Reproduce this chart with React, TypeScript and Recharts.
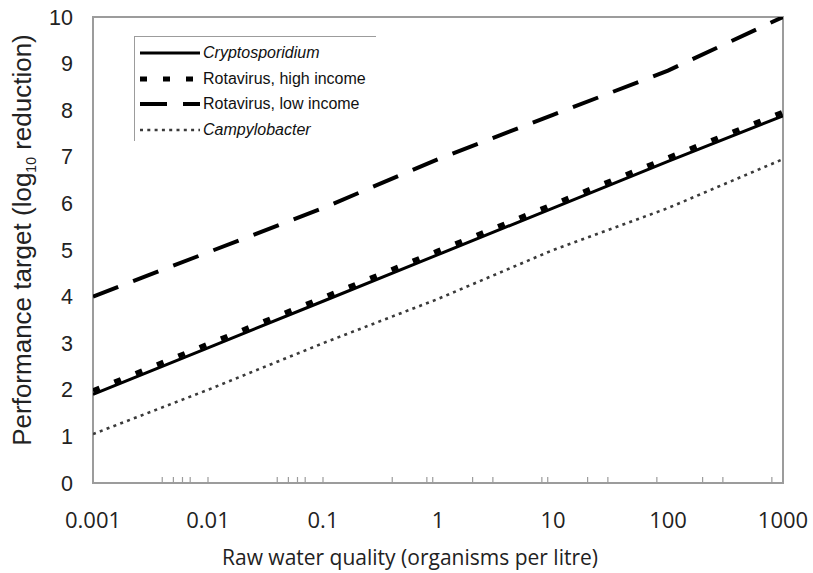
import { LineChart, Line, XAxis, YAxis, ReferenceArea, Label } from "recharts";

// raw water quality, organisms per litre
const xValues = [0.001, 0.01, 0.1, 1, 10, 100, 1000];
const cryptoValues = [1.9, 2.9, 3.9, 4.9, 5.9, 6.9, 7.88];
const rotaHighValues = [1.98, 2.98, 3.98, 4.98, 5.98, 6.98, 7.96];
const rotaLowValues = [4.0, 4.95, 5.9, 6.95, 7.9, 8.85, 10.0];
const campyValues = [1.05, 2.0, 3.0, 3.95, 5.0, 5.9, 6.95];

const xTicks = [0.001, 0.01, 0.1, 1, 10, 100, 1000];
const minorTicks = [
  0.004, 0.005, 0.006, 0.007, 0.01, 0.04, 0.05, 0.06, 0.07, 0.1, 0.4, 0.8, 0.9,
  2, 3, 8, 9, 20, 30, 80, 200, 300, 800,
];
const yTicks = [0, 1, 2, 3, 4, 5, 6, 7, 8, 9, 10];

const series = [
  { key: "campy", name: "Campylobacter", color: "#3a3a3a", width: 2.6, dash: "3 4.3", italic: true },
  { key: "crypto", name: "Cryptosporidium", color: "#000", width: 3, dash: undefined, italic: true },
  { key: "rotaHigh", name: "Rotavirus, high income", color: "#000", width: 5, dash: "7 16", italic: false },
  { key: "rotaLow", name: "Rotavirus, low income", color: "#000", width: 4, dash: "27 16", italic: false },
];
const legendOrder = ["crypto", "rotaHigh", "rotaLow", "campy"];

const data = xValues.map((x, i) => ({
  x,
  crypto: cryptoValues[i],
  rotaHigh: rotaHighValues[i],
  rotaLow: rotaLowValues[i],
  campy: campyValues[i],
}));

const axisGray = "#9c9c9c";

const ChartLegend = () => (
  <div
    style={{
      position: "absolute",
      left: 134,
      top: 36,
      width: 241,
      height: 104,
      borderTop: `1px solid ${axisGray}`,
      borderLeft: `1px solid ${axisGray}`,
      fontFamily: "'Liberation Sans', Arial, sans-serif",
      fontSize: 16,
      color: "#111",
    }}
  >
    {legendOrder.map((k, i) => {
      const s = series.find((d) => d.key === k)!;
      return (
        <div
          key={k}
          style={{ position: "absolute", left: 3, top: 6 + i * 25.5, height: 20, display: "flex", alignItems: "center" }}
        >
          <svg width={63} height={20}>
            <line x1={2} y1={10} x2={62} y2={10} stroke={s.color} strokeWidth={s.width} strokeDasharray={s.dash} />
          </svg>
          <span style={{ marginLeft: 2, fontStyle: s.italic ? "italic" : "normal" }}>{s.name}</span>
        </div>
      );
    })}
  </div>
);

export default function App() {
  return (
    <div style={{ position: "absolute", left: 0, top: 0, width: 813, height: 573, background: "#fff" }}>
      <LineChart width={813} height={573} data={data} margin={{ top: 17, right: 30, left: 0, bottom: 30 }}>
        <XAxis
          xAxisId="minor"
          dataKey="x"
          type="number"
          scale="log"
          domain={[0.001, 1000]}
          ticks={minorTicks}
          interval={0}
          mirror
          axisLine={false}
          tickSize={6}
          tickLine={{ stroke: axisGray, strokeWidth: 1.2 }}
          tickFormatter={() => ""}
          allowDataOverflow
        />
        <XAxis
          dataKey="x"
          type="number"
          scale="log"
          domain={[0.001, 1000]}
          ticks={xTicks}
          interval={0}
          height={60}
          axisLine={false}
          tickLine={false}
          tickSize={0}
          tickMargin={29}
          tick={{ fill: "#222", fontSize: 22, fontFamily: "'Open Sans', sans-serif" }}
          allowDataOverflow
        >
          <Label
            value="Raw water quality (organisms per litre)"
            position="insideBottom"
            offset={-22}
            dx={-28}
            style={{ fill: "#222", fontSize: 21, fontFamily: "'Open Sans', sans-serif" }}
          />
        </XAxis>
        <YAxis
          type="number"
          domain={[0, 10]}
          ticks={yTicks}
          interval={0}
          width={93}
          axisLine={false}
          tickLine={false}
          tickSize={0}
          tickMargin={20}
          tick={{ fill: "#222", fontSize: 21.5, fontFamily: "'Liberation Sans', Arial, sans-serif" }}
          allowDataOverflow
        />
        <ReferenceArea x1={0.001} x2={1000} y1={0} y2={10} fill="none" stroke={axisGray} strokeWidth={2} />
        {series.map((s) => (
          <Line
            key={s.key}
            dataKey={s.key}
            name={s.name}
            type="linear"
            stroke={s.color}
            strokeWidth={s.width}
            strokeDasharray={s.dash}
            dot={false}
            activeDot={false}
            isAnimationActive={false}
          />
        ))}
        <text
          transform="translate(31, 240) rotate(-90)"
          textAnchor="middle"
          fontSize={26}
          fill="#222"
          fontFamily="'Liberation Sans', Arial, sans-serif"
        >
          Performance target (log
          <tspan fontSize={14} dy={5}>10</tspan>
          <tspan dy={-5}> reduction)</tspan>
        </text>
      </LineChart>
      <ChartLegend />
    </div>
  );
}
